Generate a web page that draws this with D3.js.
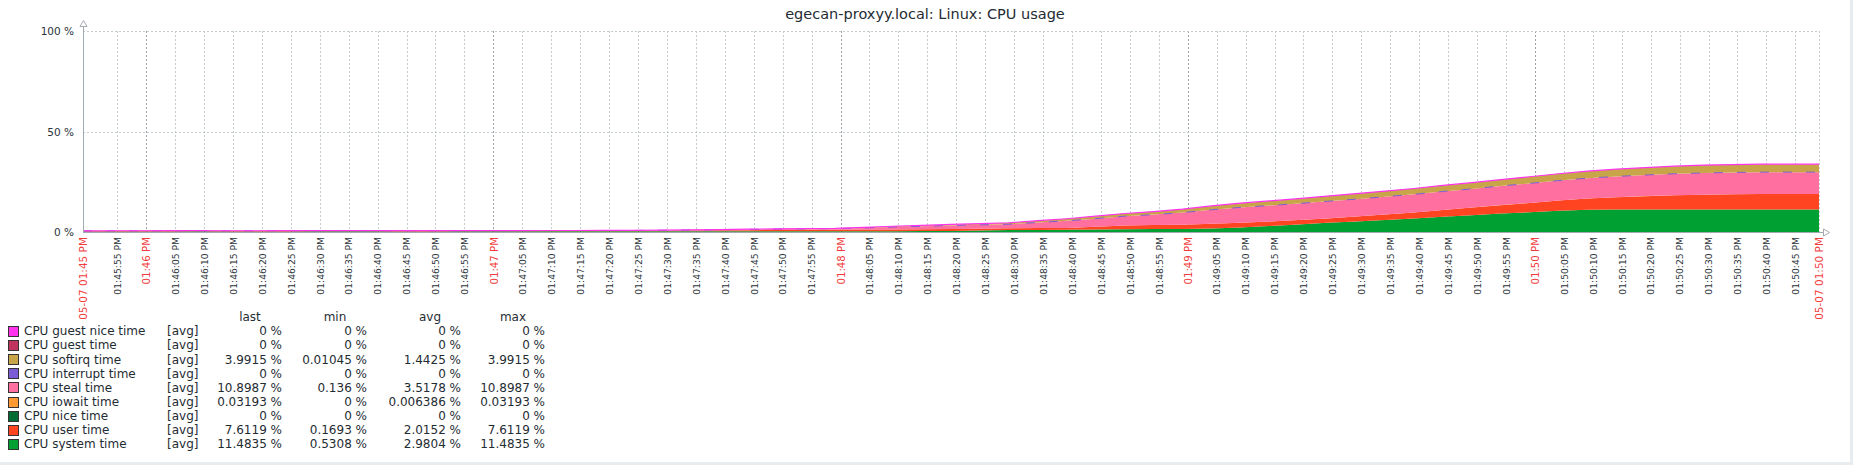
<!DOCTYPE html>
<html>
<head>
<meta charset="utf-8">
<script src="https://cdn.jsdelivr.net/npm/d3@7"></script>
<style>
  html, body { margin: 0; padding: 0; background: #e8ecef; }
  svg { display: block; background: #ffffff; }
  text { font-family: "DejaVu Sans", sans-serif; }
</style>
</head>
<body>
<svg id="chart" width="1850" height="462"></svg>
<script>
// ---------------- DATA ----------------
const chartTitle = "egecan-proxyy.local: Linux: CPU usage";
const startTime = "13:45:49";
const endTime = "13:50:49";
const sampleTimes = [
  "13:45:49","13:45:54","13:45:59",
  "13:46:04","13:46:09","13:46:14","13:46:19","13:46:24","13:46:29","13:46:34","13:46:39","13:46:44","13:46:49","13:46:54","13:46:59",
  "13:47:04","13:47:09","13:47:14","13:47:19","13:47:24","13:47:29","13:47:34","13:47:39","13:47:44","13:47:49","13:47:54","13:47:59",
  "13:48:04","13:48:09","13:48:14","13:48:19","13:48:24","13:48:29","13:48:34","13:48:39","13:48:44","13:48:49","13:48:54","13:48:59",
  "13:49:04","13:49:09","13:49:14","13:49:19","13:49:24","13:49:29","13:49:34","13:49:39","13:49:44","13:49:49","13:49:54","13:49:59",
  "13:50:04","13:50:09","13:50:14","13:50:19","13:50:24","13:50:29","13:50:34","13:50:39","13:50:44","13:50:49"
];
const systemTime = [0.5308,0.54,0.55,0.55,0.56,0.55,0.54,0.55,0.56,0.57,0.56,0.55,0.55,0.56,0.57,0.58,0.57,0.56,0.56,0.57,0.58,0.58,0.57,0.58,0.59,0.6,
  0.6,0.62,0.65,0.7,0.8,1.0,1.2,1.3,1.4,1.5,1.6,1.7,1.8,2.0,
  2.5,3.2,4.0,4.8,5.5,6.2,7.0,7.8,8.6,9.4,10.1,10.8,11.3,
  11.45,11.47,11.48,11.4835,11.4835,11.4835,11.4835,11.4835];
const userTime = [0.1693,0.17,0.18,0.18,0.19,0.18,0.18,0.19,0.2,0.2,0.19,0.19,0.2,0.2,0.21,0.21,0.22,0.22,0.23,0.25,0.3,0.4,0.5,0.6,0.7,0.75,
  0.8,0.85,0.9,0.9,0.9,0.9,0.9,0.9,0.9,1.4,1.9,2.0,2.1,2.3,
  2.4,2.3,2.2,2.2,2.4,2.7,3.0,3.4,3.8,4.2,4.6,5.1,5.6,
  6.1,6.6,7.0,7.3,7.5,7.6119,7.6119,7.6119];
const niceTime = [0,0,0,0,0,0,0,0,0,0,0,0,0,0,0,0,0,0,0,0,0,0,0,0,0,0,
  0,0,0,0,0,0,0,0,0,0,0,0,0,0,
  0,0,0,0,0,0,0,0,0,0,0,0,0,
  0,0,0,0,0,0,0,0];
const iowaitTime = [0,0,0,0,0,0,0,0,0,0,0,0,0,0,0,0,0,0,0,0,0,0,0,0,0,0,
  0,0,0,0,0,0,0,0,0,0,0,0,0,0,
  0,0,0,0,0,0,0,0,0,0.03193,0.03193,0.03193,0.03193,
  0.03193,0.03193,0.03193,0.03193,0.03193,0.03193,0.03193,0.03193];
const stealTime = [0.136,0.14,0.14,0.15,0.15,0.14,0.14,0.15,0.15,0.16,0.16,0.15,0.15,0.16,0.16,0.17,0.17,0.18,0.18,0.2,0.22,0.25,0.3,0.35,0.4,0.45,
  0.5,0.8,1.2,1.5,1.8,1.9,2.0,2.8,3.5,4.0,4.6,5.2,6.0,7.0,
  7.6,7.9,8.2,8.5,8.7,8.9,9.0,9.2,9.3,9.5,9.7,9.9,10.1,
  10.3,10.5,10.7,10.8,10.85,10.8987,10.8987,10.8987];
const interruptTime = [0,0,0,0,0,0,0,0,0,0,0,0,0,0,0,0,0,0,0,0,0,0,0,0,0,0,
  0,0,0,0,0,0,0,0,0,0,0,0,0,0,
  0,0,0,0,0,0,0,0,0,0,0,0,0,
  0,0,0,0,0,0,0,0];
const softirqTime = [0.01045,0.011,0.012,0.012,0.013,0.012,0.012,0.013,0.014,0.015,0.015,0.015,0.016,0.017,0.018,0.02,0.025,0.03,0.04,0.05,0.06,0.08,0.1,0.12,0.15,0.18,
  0.2,0.3,0.35,0.4,0.5,0.6,0.75,0.9,1.05,1.2,1.35,1.5,1.7,1.9,
  2.1,2.3,2.45,2.6,2.7,2.8,2.9,3.0,3.1,3.2,3.3,3.4,3.5,
  3.6,3.7,3.8,3.9,3.95,3.9915,3.9915,3.9915];
const guestTime = [0,0,0,0,0,0,0,0,0,0,0,0,0,0,0,0,0,0,0,0,0,0,0,0,0,0,
  0,0,0,0,0,0,0,0,0,0,0,0,0,0,
  0,0,0,0,0,0,0,0,0,0,0,0,0,
  0,0,0,0,0,0,0,0];
const guestNiceTime = [0,0,0,0,0,0,0,0,0,0,0,0,0,0,0,0,0,0,0,0,0,0,0,0,0,0,
  0,0,0,0,0,0,0,0,0,0,0,0,0,0,
  0,0,0,0,0,0,0,0,0,0,0,0,0,
  0,0,0,0,0,0,0,0];

// stacking order, bottom to top
const seriesKeys = ["system","user","nice","iowait","steal","interrupt","softirq","guest","guestNice"];
const seriesNames = ["CPU system time","CPU user time","CPU nice time","CPU iowait time","CPU steal time",
  "CPU interrupt time","CPU softirq time","CPU guest time","CPU guest nice time"];
const seriesColors = ["#00a032","#ff4422","#006b33","#ff9933","#ff6fa0","#7b5cd6","#c9a54a","#c0345e","#ff33ee"];
const seriesValues = [systemTime,userTime,niceTime,iowaitTime,stealTime,interruptTime,softirqTime,guestTime,guestNiceTime];

const legendLast = ["11.4835 %","7.6119 %","0 %","0.03193 %","10.8987 %","0 %","3.9915 %","0 %","0 %"];
const legendMin  = ["0.5308 %","0.1693 %","0 %","0 %","0.136 %","0 %","0.01045 %","0 %","0 %"];
const legendAvg  = ["2.9804 %","2.0152 %","0 %","0.006386 %","3.5178 %","0 %","1.4425 %","0 %","0 %"];
const legendMax  = ["11.4835 %","7.6119 %","0 %","0.03193 %","10.8987 %","0 %","3.9915 %","0 %","0 %"];
const legendHeaders = ["last","min","avg","max"];
const yTickValues = [0, 50, 100];

// ---------------- CHART ----------------
const parseT = s => { const [h,m,sec] = s.split(":").map(Number); return new Date(2024, 4, 7, h, m, sec); };
const svg = d3.select("#chart");

const x = d3.scaleTime().domain([parseT(startTime), parseT(endTime)]).range([83, 1819]);
const y = d3.scaleLinear().domain([0, 100]).range([232.5, 31.5]);

const rows = sampleTimes.map((t, i) => {
  const r = { t: parseT(t) };
  seriesKeys.forEach((k, j) => r[k] = seriesValues[j][i]);
  return r;
});

// title
svg.append("text").attr("x", 925).attr("y", 19).attr("text-anchor", "middle")
  .attr("font-size", "14.5px").attr("fill", "#1f2c33").text(chartTitle);

// grid
const grid = svg.append("g");
const allTicks = x.ticks(d3.timeSecond.every(5)).filter(t => x(t) - 83 > 15 && 1819 - x(t) > 15);
const px = v => Math.floor(v) + 0.5;
allTicks.forEach(t => {
  const major = t.getSeconds() === 0;
  grid.append("line").attr("x1", px(x(t))).attr("x2", px(x(t))).attr("y1", 31).attr("y2", 232)
    .attr("stroke", major ? "#9ba3a9" : "#c6cdd1").attr("stroke-dasharray", "2,2");
});
grid.append("line").attr("x1", px(1819)).attr("x2", px(1819)).attr("y1", 31).attr("y2", 232)
  .attr("stroke", "#c6cdd1").attr("stroke-dasharray", "2,2");
[50, 100].forEach(v => {
  grid.append("line").attr("x1", 83).attr("x2", 1819).attr("y1", px(y(v))).attr("y2", px(y(v)))
    .attr("stroke", "#c6cdd1").attr("stroke-dasharray", "2,2");
});

// stacked areas
const stack = d3.stack().keys(seriesKeys);
const layers = stack(rows);
const area = d3.area().x(d => x(d.data.t)).y0(d => y(d[0])).y1(d => y(d[1]));
const line = d3.line().x(d => x(d.data.t)).y(d => y(d[1]));
svg.append("g").selectAll("path").data(layers).join("path")
  .attr("d", area).attr("fill", (d, i) => seriesColors[i]);
// interrupt top line (dashed) and guest nice top line
svg.append("path").datum(layers[5]).attr("d", line).attr("fill", "none")
  .attr("stroke", seriesColors[5]).attr("stroke-width", 1).attr("stroke-dasharray", "9,14");
svg.append("path").datum(layers[8]).attr("d", line).attr("fill", "none")
  .attr("stroke", seriesColors[8]).attr("stroke-width", 1.2);

// axes
const axisColor = "#a3abb1";
svg.append("line").attr("x1", 83.5).attr("x2", 83.5).attr("y1", 26).attr("y2", 233).attr("stroke", axisColor);
svg.append("path").attr("d", "M80,26.5 L87,26.5 L83.5,20.5 Z").attr("fill", "#fff").attr("stroke", axisColor);
svg.append("line").attr("x1", 83).attr("x2", 1824).attr("y1", 232.5).attr("y2", 232.5).attr("stroke", axisColor);
svg.append("path").attr("d", "M1823.5,229 L1823.5,236 L1829.5,232.5 Z").attr("fill", "#fff").attr("stroke", axisColor);

// y labels
const yAxis = svg.append("g").attr("transform", "translate(83,0)")
  .call(d3.axisLeft(y).tickValues(yTickValues).tickFormat(d => d + " %").tickSize(0).tickPadding(9));
yAxis.select(".domain").remove();
yAxis.selectAll("text").attr("font-size", "10.5px").attr("fill", "#2b3338").attr("font-family", "DejaVu Sans");

// x labels
const red = "#f03c3c";
const fmtMin = d3.timeFormat("%I:%M %p");
const fmtSec = d3.timeFormat("%I:%M:%S %p");
const fmtEdge = d3.timeFormat("%m-%d %I:%M %p");
const xl = svg.append("g");
allTicks.forEach(t => {
  const major = t.getSeconds() === 0;
  xl.append("text").attr("transform", `translate(${x(t)},237) rotate(-90)`)
    .attr("text-anchor", "end").attr("dy", "0.36em")
    .attr("font-size", major ? "10.2px" : "9.2px").attr("fill", major ? red : "#2b3338")
    .text(major ? fmtMin(t) : fmtSec(t));
});
[x.domain()[0], x.domain()[1]].forEach(t => {
  xl.append("text").attr("transform", `translate(${x(t)},237) rotate(-90)`)
    .attr("text-anchor", "end").attr("dy", "0.36em")
    .attr("font-size", "10.5px").attr("fill", red).text(fmtEdge(t));
});

// legend
const lg = svg.append("g");
const colRight = [282, 367, 461, 545];
const headCenter = [250, 335, 430, 513];
legendHeaders.forEach((h, i) => {
  lg.append("text").attr("x", headCenter[i]).attr("y", 316.5).attr("dy", "0.36em")
    .attr("text-anchor", "middle").attr("font-size", "12px").attr("fill", "#1f2c33").text(h);
});
const order = d3.range(seriesKeys.length).reverse();
order.forEach((si, r) => {
  const cy = 331 + r * 14.1;
  lg.append("rect").attr("x", 8.5).attr("y", Math.round(cy - 5) + 0.5).attr("width", 10).attr("height", 10)
    .attr("fill", seriesColors[si]).attr("stroke", "#333");
  lg.append("text").attr("x", 24).attr("y", cy).attr("dy", "0.36em").attr("font-size", "12px")
    .attr("fill", "#1f2c33").text(seriesNames[si]);
  lg.append("text").attr("x", 167).attr("y", cy).attr("dy", "0.36em").attr("font-size", "12px")
    .attr("fill", "#1f2c33").text("[avg]");
  [legendLast, legendMin, legendAvg, legendMax].forEach((arr, c) => {
    lg.append("text").attr("x", colRight[c]).attr("y", cy).attr("dy", "0.36em").attr("text-anchor", "end")
      .attr("font-size", "12px").attr("fill", "#1f2c33").text(arr[si]);
  });
});
</script>
</body>
</html>
